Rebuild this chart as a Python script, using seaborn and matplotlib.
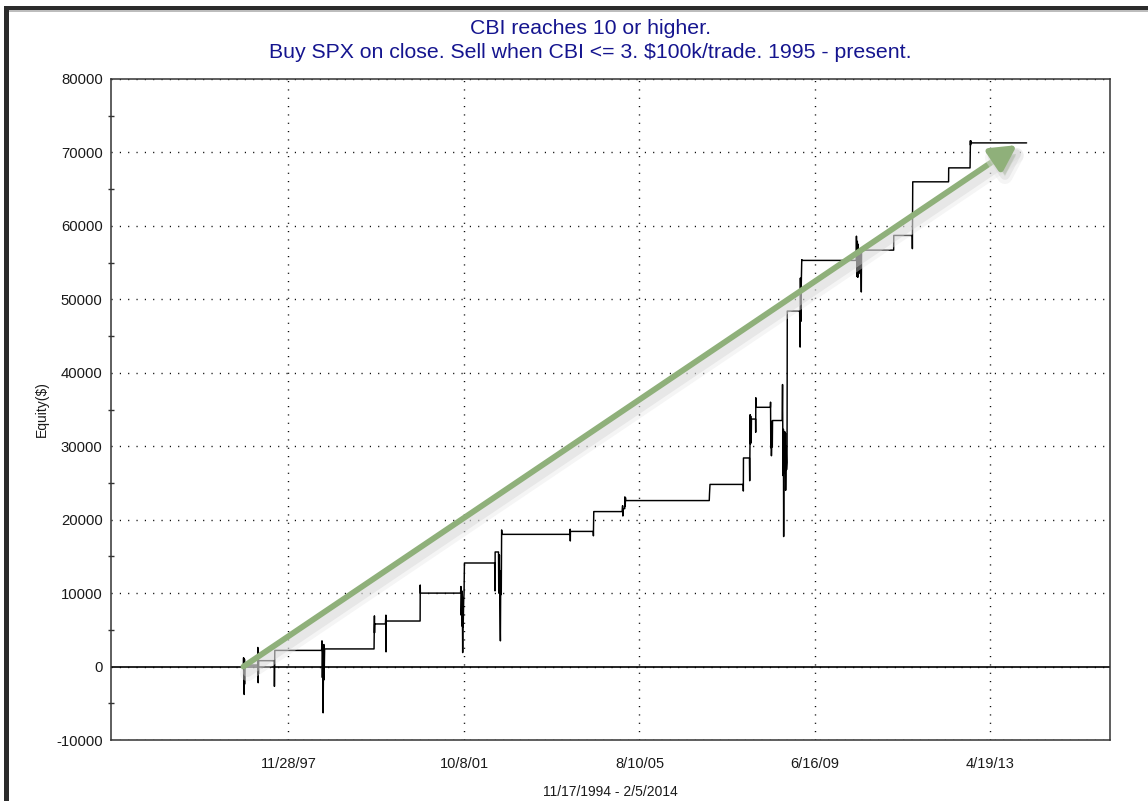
import numpy as np
import pandas as pd
import seaborn as sns
import matplotlib.pyplot as plt
import matplotlib.dates as mdates
import matplotlib.patheffects as pe
from matplotlib.patches import Rectangle
from matplotlib.ticker import MultipleLocator, ScalarFormatter

title_lines = ["CBI reaches 10 or higher.",
               "Buy SPX on close. Sell when CBI <= 3. $100k/trade. 1995 - present."]
y_label = "Equity($)"
x_label = "11/17/1994 - 2/5/2014"

tick_dates = ["1997-11-28", "2001-10-08", "2005-08-10", "2009-06-16", "2013-04-19"]
tick_labels = ["11/28/97", "10/8/01", "8/10/05", "6/16/09", "4/19/13"]

# mark-to-market equity, trade by trade (flat between trades)
equity_dates = [
    "1996-12-03", "1996-12-04", "1996-12-05", "1996-12-06", "1996-12-09", "1996-12-10",
    "1996-12-11", "1996-12-12", "1996-12-13",
    "1997-03-27", "1997-03-28", "1997-03-31", "1997-04-01", "1997-04-02", "1997-04-03",
    "1997-08-07", "1997-08-08", "1997-08-11",
    "1998-08-21", "1998-08-24", "1998-08-27", "1998-08-31", "1998-09-02", "1998-09-04",
    "1998-09-08", "1998-09-10", "1998-09-14",
    "1999-10-15", "1999-10-18", "1999-10-19", "1999-10-20",
    "2000-01-14", "2000-01-18", "2000-01-19", "2000-01-20",
    "2000-10-18", "2000-10-19", "2000-10-20",
    "2001-09-07", "2001-09-10", "2001-09-12", "2001-09-17", "2001-09-19", "2001-09-21",
    "2001-09-24", "2001-09-26", "2001-09-28", "2001-10-02", "2001-10-05", "2001-10-08",
    "2002-06-07", "2002-06-10", "2002-06-11",
    "2002-07-08", "2002-07-10", "2002-07-15", "2002-07-18", "2002-07-23", "2002-07-26",
    "2002-07-30", "2002-08-02", "2002-08-05",
    "2004-01-30", "2004-02-02", "2004-02-03", "2004-02-04",
    "2004-08-05", "2004-08-06", "2004-08-09",
    "2005-03-24", "2005-03-28", "2005-03-30", "2005-04-01", "2005-04-14", "2005-04-15",
    "2005-04-18", "2005-04-20", "2005-04-21",
    "2007-02-20", "2007-02-22", "2007-02-26",
    "2007-11-19", "2007-11-20", "2007-11-21",
    "2008-01-08", "2008-01-10", "2008-01-14", "2008-01-16", "2008-01-18", "2008-01-22",
    "2008-01-24",
    "2008-02-26", "2008-02-27", "2008-02-28", "2008-02-29",
    "2008-06-24", "2008-06-25", "2008-06-27", "2008-06-30", "2008-07-02", "2008-07-07",
    "2008-07-09", "2008-07-11",
    "2008-09-26", "2008-09-29", "2008-10-01", "2008-10-03", "2008-10-06", "2008-10-08",
    "2008-10-10", "2008-10-14", "2008-10-16", "2008-10-20", "2008-10-22", "2008-10-24",
    "2008-10-28", "2008-10-31", "2008-11-04", "2008-11-06",
    "2009-02-13", "2009-02-17", "2009-02-19", "2009-02-23", "2009-02-26", "2009-03-02",
    "2009-03-03",
    "2010-05-12", "2010-05-14", "2010-05-18", "2010-05-21", "2010-05-25", "2010-05-28",
    "2010-06-02", "2010-06-08", "2010-06-18", "2010-06-22", "2010-06-24",
    "2011-03-08", "2011-03-09",
    "2011-08-04", "2011-08-05", "2011-08-08",
    "2012-05-21", "2012-05-22",
    "2012-11-09", "2012-11-12", "2012-11-13", "2012-11-14", "2012-11-15",
    "2014-02-05",
]
equity_values = [
    0, 1200, -1200, 800, -3800, -600,
    1000, -2400, 200,
    200, 2600, -2200, 1500, -1000, 800,
    800, -2700, 2200,
    2200, 3500, -1500, 2800, -6300, -2000,
    3000, -1800, 2400,
    2400, 6900, 4600, 5800,
    5800, 7000, 2000, 6200,
    6200, 11100, 10000,
    10000, 10900, 7000, 10300, 5500, 9500,
    1900, 8000, 5400, 9000, 10000, 14100,
    14100, 10300, 15600,
    15600, 10000, 15200, 9700, 3500, 13000,
    9800, 18600, 18000,
    18000, 18700, 17100, 18400,
    18400, 17800, 21100,
    21100, 21900, 20500, 21500, 21500, 23100,
    21800, 23000, 22600,
    22600, 23500, 24800,
    24800, 23900, 28400,
    28400, 25300, 34300, 30300, 34100, 30500,
    33700,
    33700, 31900, 36600, 35300,
    35300, 36000, 29800, 33400, 28700, 33300,
    29900, 33500,
    33500, 38400, 31000, 26000, 32300, 17700,
    30000, 26400, 32000, 26400, 31800, 24000,
    30000, 26800, 27800, 48400,
    48400, 43500, 52900, 47000, 52000, 55400,
    55300,
    55300, 58600, 53100, 57900, 53000, 57500,
    53500, 56000, 56200, 51000, 56700,
    56700, 58700,
    58700, 56900, 66000,
    66000, 67900,
    67900, 71600, 71000, 71600, 71300,
    71300,
]

arrow_start = ("1996-12-03", 0)
arrow_end = ("2013-11-20", 71000)

df = pd.DataFrame({"date": pd.to_datetime(equity_dates), "equity": equity_values})

sns.set_style("white")
plt.rcParams["font.family"] = ["Liberation Sans", "DejaVu Sans"]
plt.rcParams["axes.unicode_minus"] = False

W, H = 1148, 801
fig = plt.figure(figsize=(W / 100, H / 100), dpi=100)
ax = fig.add_axes([111 / W, 1 - 740 / H, 999 / W, 661 / H])

sns.lineplot(data=df, x="date", y="equity", estimator=None, sort=False,
             color="black", lw=1.05, ax=ax, zorder=3)

ax.set_xlim(mdates.date2num(pd.Timestamp("1994-01-07")), mdates.date2num(pd.Timestamp("2015-12-05")))
ax.set_ylim(-10000, 80000)

ax.set_xticks(mdates.date2num(pd.to_datetime(tick_dates)))
ax.set_xticklabels(tick_labels)
ax.yaxis.set_major_locator(MultipleLocator(10000))
ax.yaxis.set_minor_locator(MultipleLocator(5000))
fmt = ScalarFormatter(useOffset=False)
fmt.set_scientific(False)
ax.yaxis.set_major_formatter(fmt)

dots = (0, (0.8, 5.2))
ax.grid(True, which="major", axis="both", color="black", lw=1.0, ls=dots)
ax.axhline(0, color="black", lw=1.2, zorder=2)

for s in ax.spines.values():
    s.set_color("#333333")
    s.set_linewidth(1.1)

ax.tick_params(axis="x", length=0, pad=12, labelsize=10.5, labelcolor="#1a1a1a")
ax.tick_params(axis="y", which="major", length=3, width=1, direction="out",
               pad=3, labelsize=10.7, labelcolor="#1a1a1a", color="#333333")
ax.tick_params(axis="y", which="minor", length=5, width=1, direction="inout",
               color="#333333", left=True)

ax.set_xlabel(x_label, fontsize=10, color="#1a1a1a", labelpad=10)
ax.set_ylabel(y_label, fontsize=10, color="#1a1a1a", labelpad=5)

fig.text(590 / W, 1 - 28 / H, title_lines[0], fontsize=15.3, color="#15158f",
         ha="center", va="center")
fig.text(590 / W, 1 - 53 / H, title_lines[1], fontsize=15.3, color="#15158f",
         ha="center", va="center")

ann = ax.annotate(
    "",
    xy=(mdates.date2num(pd.Timestamp(arrow_end[0])), arrow_end[1]),
    xytext=(mdates.date2num(pd.Timestamp(arrow_start[0])), arrow_start[1]),
    arrowprops=dict(arrowstyle="-|>,head_length=1.5,head_width=0.8",
                    color="#8fb07a", lw=4.2, mutation_scale=10,
                    shrinkA=0, shrinkB=0),
    zorder=4,
)
# soft drop shadow below-right of the arrow
ann.arrow_patch.set_path_effects([
    pe.Stroke(offset=(3, -5), linewidth=11, foreground="#e6e6e6", alpha=0.4),
    pe.Stroke(offset=(3, -4), linewidth=7, foreground="#d2d2d2", alpha=0.4),
    pe.SimplePatchShadow(offset=(3, -4), shadow_rgbFace="#c0c0c0", alpha=0.4),
    pe.Normal(),
])

# window frame
fig.add_artist(Rectangle((4 / W, 0), 4.5 / W, 1 - 6 / H, transform=fig.transFigure,
                         color="#2b2b2b", lw=0))
fig.add_artist(Rectangle((4 / W, 1 - 10 / H), 1 - 4 / W, 4 / H, transform=fig.transFigure,
                         color="#2b2b2b", lw=0))
fig.add_artist(Rectangle((8.5 / W, 1 - 11.5 / H), 1 - 8.5 / W, 1.5 / H, transform=fig.transFigure,
                         color="#bdbdbd", lw=0))

fig.savefig("out.png", dpi=100)
